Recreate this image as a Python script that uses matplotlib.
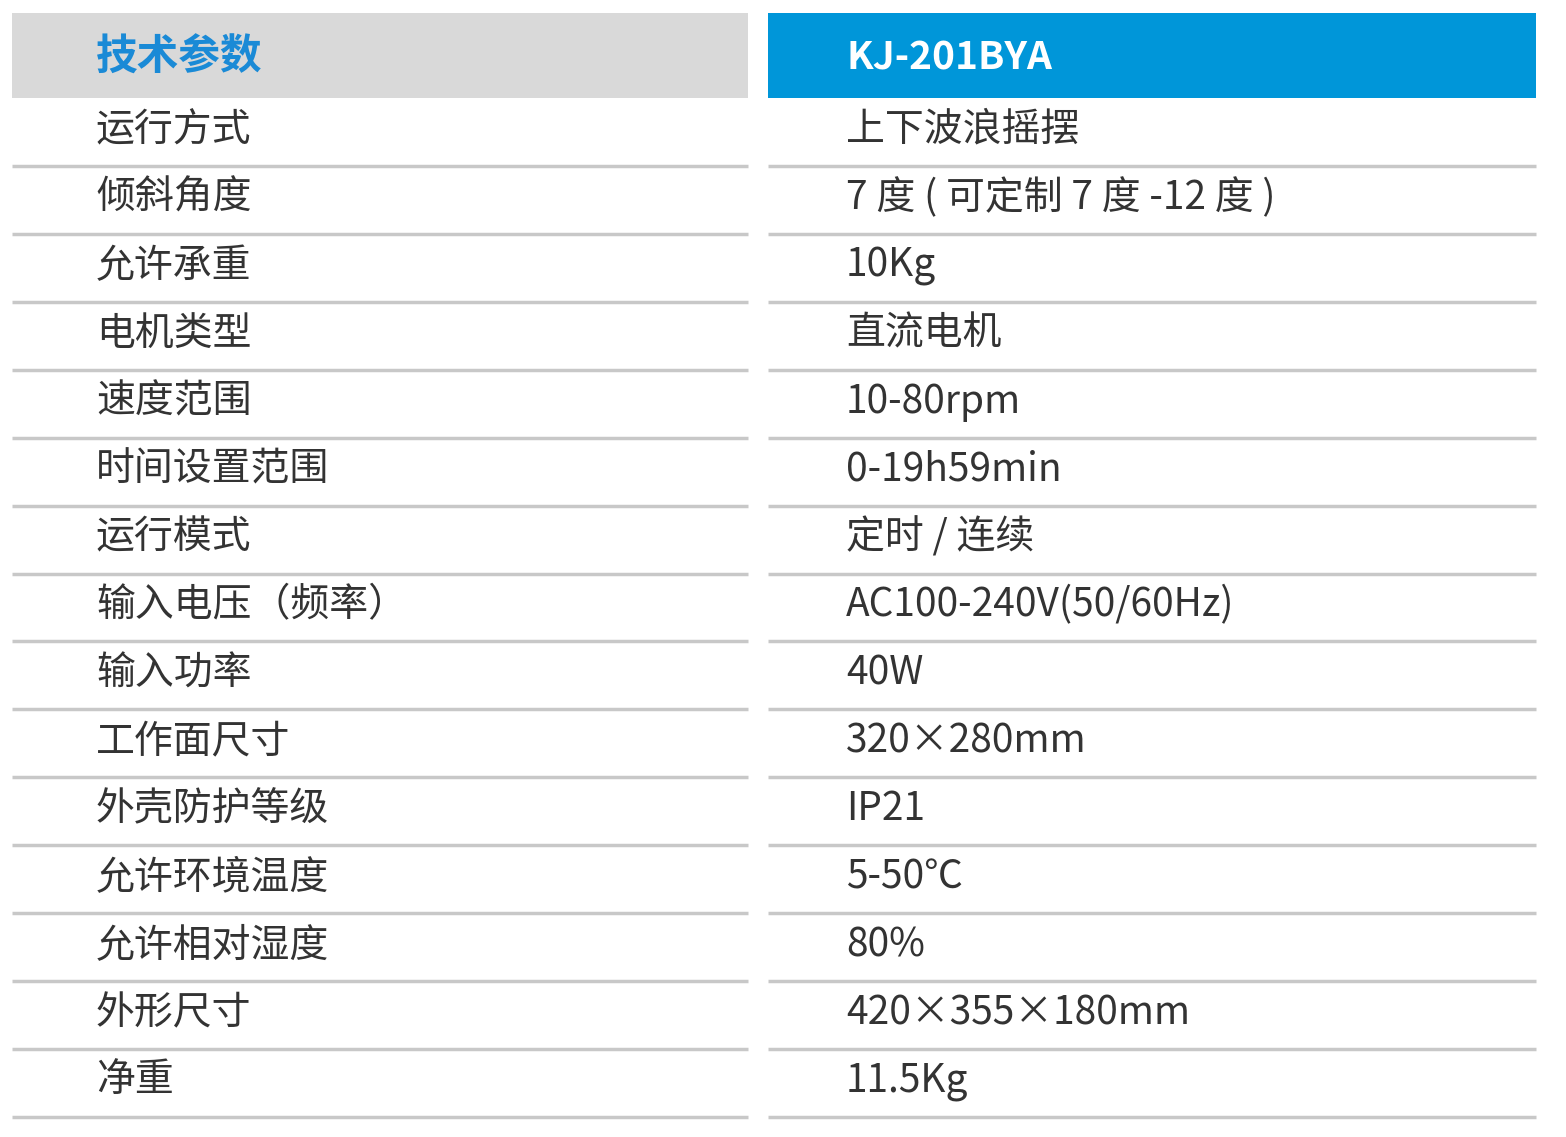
import matplotlib
matplotlib.use("Agg")
import matplotlib.pyplot as plt
from matplotlib.patches import Rectangle

plt.rcParams['font.family'] = ['Noto Sans CJK SC', 'DejaVu Sans']

header_left = "技术参数"
header_right = "KJ-201BYA"
params = ["运行方式", "倾斜角度", "允许承重", "电机类型", "速度范围", "时间设置范围",
          "运行模式", "输入电压（频率）", "输入功率", "工作面尺寸", "外壳防护等级",
          "允许环境温度", "允许相对湿度", "外形尺寸", "净重"]
values = ["上下波浪摇摆", "7 度 ( 可定制 7 度 -12 度 )", "10Kg", "直流电机", "10-80rpm",
          "0-19h59min", "定时 / 连续", "AC100-240V(50/60Hz)", "40W", "320×280mm",
          "IP21", "5-50℃", "80%", "420×355×180mm", "11.5Kg"]

W, H = 1566, 1137
fig = plt.figure(figsize=(W / 100, H / 100), dpi=100)
ax = fig.add_axes([0, 0, 1, 1])
ax.set_xlim(0, W)
ax.set_ylim(H, 0)
ax.axis("off")

# header boxes
ax.add_patch(Rectangle((12, 13), 736, 85, color="#d9d9d9", lw=0))
ax.add_patch(Rectangle((768, 13), 768, 85, color="#0096d9", lw=0))
ax.text(96, 58, header_left, fontsize=30, fontweight="bold", color="#1a8ad6", va="center")
ax.text(846, 58, header_right, fontsize=28, fontweight="bold", color="white", va="center")

top = 98
pitch = (1117 - 98) / len(params)
for i, (p, v) in enumerate(zip(params, values)):
    y0 = top + i * pitch
    yc = y0 + pitch / 2 - 2
    ax.text(96, yc, p, fontsize=28, color="#333333", va="center")
    ax.text(846, yc, v, fontsize=28, color="#333333", va="center")
    yl = y0 + pitch
    ax.plot([12, 748], [yl, yl], color="#c8c8c8", lw=2.5, solid_capstyle="butt")
    ax.plot([768, 1536], [yl, yl], color="#c8c8c8", lw=2.5, solid_capstyle="butt")

fig.savefig("out.png", dpi=100, facecolor="white")
